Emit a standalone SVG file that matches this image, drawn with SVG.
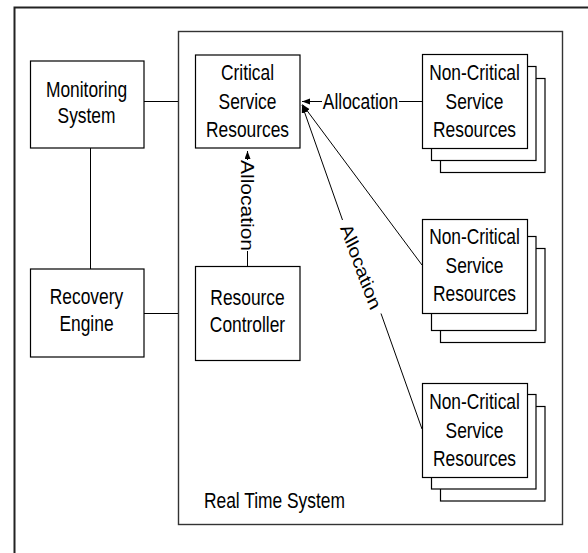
<svg xmlns="http://www.w3.org/2000/svg" width="588" height="553" viewBox="0 0 588 553">
<style>
  .box{fill:#fff;stroke:#000;stroke-width:1.2}
  .ln{fill:none;stroke:#000;stroke-width:1}
  text{font-family:"Liberation Sans",Arial,sans-serif;font-size:22px;fill:#000}
  .r{font-size:21px}
  .c{text-anchor:middle}
</style>
<defs>
  <marker id="arr" markerUnits="userSpaceOnUse" markerWidth="10" markerHeight="8" refX="8" refY="3" orient="auto">
    <path d="M0,0 L8,3 L0,6 z" fill="#000"/>
  </marker>
</defs>
<rect x="0" y="0" width="588" height="553" fill="#fff"/>
<rect id="frame" x="14.5" y="7.5" width="620" height="600" fill="none" stroke="#222" stroke-width="2"/>

<g id="realtime">
  <rect x="178.5" y="31.5" width="384" height="493" fill="none" stroke="#333" stroke-width="1.4"/>
  <text transform="matrix(0.79,0,0,1,204,508)">Real Time System</text>
</g>

<g id="connectors">
  <line class="ln" x1="144" y1="101.5" x2="178" y2="101.5"/>
  <line class="ln" x1="144" y1="313.5" x2="178" y2="313.5"/>
  <line class="ln" x1="90.5" y1="148" x2="90.5" y2="269"/>
  <line class="ln" x1="247.5" y1="266" x2="247.5" y2="251"/>
  <line class="ln" x1="247.5" y1="160" x2="247.5" y2="151" marker-end="url(#arr)"/>
  <text class="c r" transform="translate(247.5,205.5) scale(0.83,1) rotate(90)" y="7.5">Allocation</text>
  <line class="ln" x1="422" y1="101.5" x2="399" y2="101.5"/>
  <line class="ln" x1="322" y1="101.5" x2="302" y2="101.5" marker-end="url(#arr)"/>
  <text class="c" transform="matrix(0.79,0,0,1,360.5,109)">Allocation</text>
  <line class="ln" x1="422" y1="265" x2="302.5" y2="104.5" marker-end="url(#arr)"/>
  <line class="ln" x1="422" y1="429" x2="381" y2="313.5"/>
  <line class="ln" x1="342.5" y1="220" x2="302" y2="105" marker-end="url(#arr)"/>
  <text class="c r" transform="translate(361,266.5) scale(0.83,1) rotate(65.9)" y="7.5">Allocation</text>
</g>

<g id="monitoring">
  <rect class="box" x="30.5" y="61" width="113.5" height="87"/>
  <g transform="matrix(0.79,0,0,1,86.5,0)">
    <text class="c" y="97">Monitoring</text>
    <text class="c" y="123">System</text>
  </g>
</g>

<g id="recovery">
  <rect class="box" x="30.5" y="269" width="113.5" height="88"/>
  <g transform="matrix(0.79,0,0,1,86.5,0)">
    <text class="c" y="304.5">Recovery</text>
    <text class="c" y="331.5">Engine</text>
  </g>
</g>

<g id="critical">
  <rect class="box" x="195.5" y="55" width="104.5" height="93"/>
  <g transform="matrix(0.79,0,0,1,247.5,0)">
    <text class="c" y="80.5">Critical</text>
    <text class="c" y="109">Service</text>
    <text class="c" y="137">Resources</text>
  </g>
</g>

<g id="controller">
  <rect class="box" x="195.5" y="266.5" width="104.5" height="94"/>
  <g transform="matrix(0.79,0,0,1,247.5,0)">
    <text class="c" y="305">Resource</text>
    <text class="c" y="332">Controller</text>
  </g>
</g>

<g id="noncritical1">
  <rect class="box" x="440.5" y="78.5" width="104.5" height="94"/>
  <rect class="box" x="431.5" y="66.5" width="104.5" height="94"/>
  <rect class="box" x="422.5" y="54.5" width="105" height="94"/>
  <g transform="matrix(0.79,0,0,1,474.5,0)">
    <text class="c" y="80">Non-Critical</text>
    <text class="c" y="109">Service</text>
    <text class="c" y="137">Resources</text>
  </g>
</g>

<g id="noncritical2">
  <rect class="box" x="440.5" y="248.5" width="104.5" height="94"/>
  <rect class="box" x="431.5" y="236.5" width="104.5" height="94"/>
  <rect class="box" x="422.5" y="219.5" width="105" height="94"/>
  <g transform="matrix(0.79,0,0,1,474.5,0)">
    <text class="c" y="244.5">Non-Critical</text>
    <text class="c" y="273.5">Service</text>
    <text class="c" y="301.5">Resources</text>
  </g>
</g>

<g id="noncritical3">
  <rect class="box" x="440.5" y="406.5" width="104.5" height="94.5"/>
  <rect class="box" x="431.5" y="394.5" width="104.5" height="94.5"/>
  <rect class="box" x="422.5" y="383.5" width="105" height="94"/>
  <g transform="matrix(0.79,0,0,1,474.5,0)">
    <text class="c" y="409.5">Non-Critical</text>
    <text class="c" y="438">Service</text>
    <text class="c" y="466">Resources</text>
  </g>
</g>
</svg>
